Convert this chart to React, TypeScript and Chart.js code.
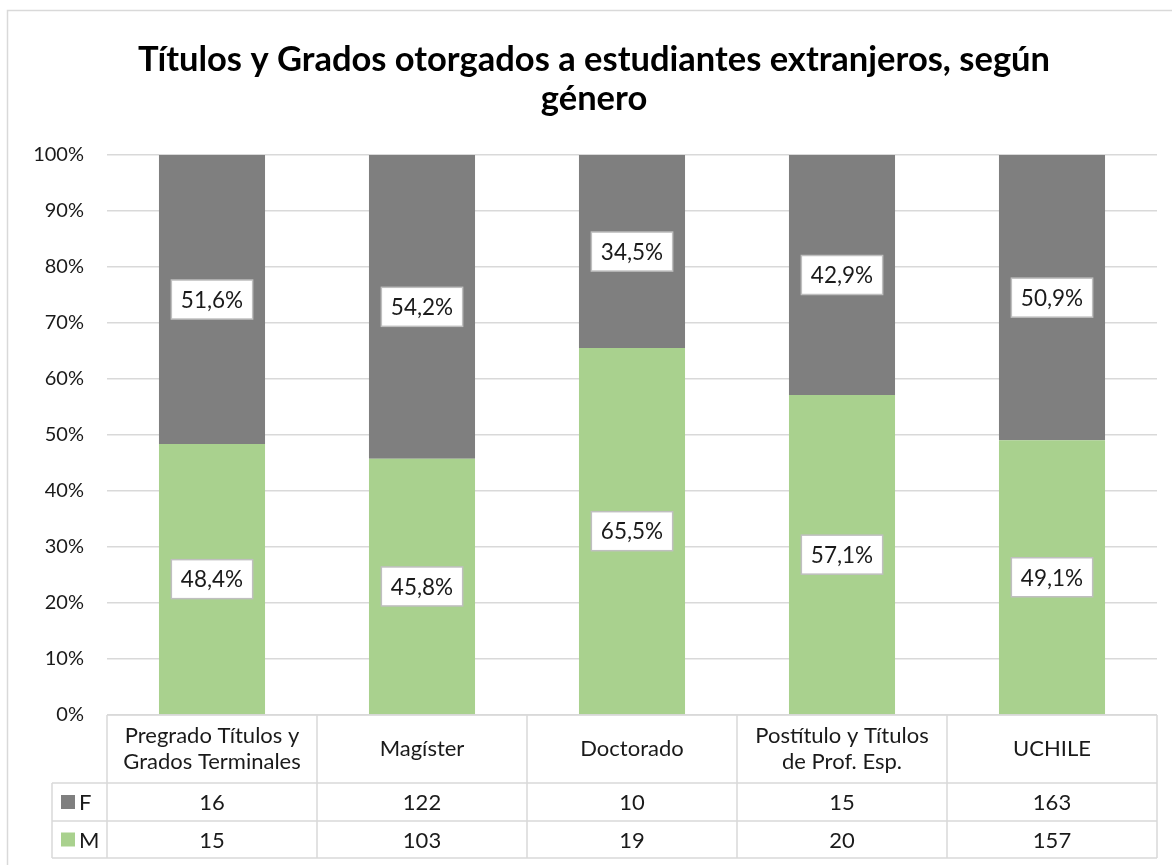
import React, { useEffect, useRef } from "react";
import { Chart, registerables } from "chart.js";

Chart.register(...registerables);

const titleLines = ["Títulos y Grados otorgados a estudiantes extranjeros, según", "género"];
const categories: string[][] = [
  ["Pregrado Títulos y", "Grados Terminales"],
  ["Magíster"],
  ["Doctorado"],
  ["Postítulo y Títulos", "de Prof. Esp."],
  ["UCHILE"],
];
const seriesFName = "F";
const seriesMName = "M";
const countsF = [16, 122, 10, 15, 163];
const countsM = [15, 103, 19, 20, 157];
const yTickStep = 10;

const COLOR_F = "#7f7f7f";
const COLOR_M = "#a9d18e";
const GRID = "#d9d9d9";
const TEXT = "#1a1a1a";
const FONT = "Lato, 'Noto Sans', sans-serif";

const pctM = countsM.map((m, i) => (m / (m + countsF[i])) * 100);
const pctF = countsF.map((f, i) => (f / (f + countsM[i])) * 100);

const fmt = (v: number) => v.toFixed(1).replace(".", ",") + "%";

const decorPlugin = {
  id: "decor",
  beforeDraw(chart: any) {
    const ctx = chart.ctx;
    ctx.save();
    ctx.fillStyle = "#fff";
    ctx.fillRect(0, 0, chart.width, chart.height);
    ctx.strokeStyle = GRID;
    ctx.lineWidth = 1.5;
    ctx.strokeRect(7.5, 10.5, chart.width + 20, chart.height + 20);
    // title
    ctx.fillStyle = "#000";
    ctx.font = `bold 34.5px ${FONT}`;
    ctx.textAlign = "center";
    ctx.textBaseline = "alphabetic";
    ctx.fillText(titleLines[0], 594, 71);
    ctx.fillText(titleLines[1], 594, 110);
    ctx.restore();
  },
  afterDatasetsDraw(chart: any) {
    const ctx = chart.ctx;
    ctx.save();
    ctx.font = `22.5px ${FONT}`;
    ctx.textAlign = "center";
    ctx.textBaseline = "middle";
    chart.data.datasets.forEach((ds: any, di: number) => {
      const meta = chart.getDatasetMeta(di);
      meta.data.forEach((el: any, i: number) => {
        const txt = fmt(ds.data[i]);
        const cx = el.x;
        const cy = (el.y + el.base) / 2;
        const w = ctx.measureText(txt).width + 19;
        const h = 39;
        ctx.fillStyle = "#fff";
        ctx.fillRect(cx - w / 2, cy - h / 2, w, h);
        ctx.strokeStyle = "#bfbfbf";
        ctx.lineWidth = 1.5;
        ctx.strokeRect(cx - w / 2, cy - h / 2, w, h);
        ctx.fillStyle = TEXT;
        ctx.fillText(txt, cx, cy + 1);
      });
    });
    ctx.restore();
  },
  afterDraw(chart: any) {
    const ctx = chart.ctx;
    const area = chart.chartArea;
    const xs = chart.scales.x;
    const n = categories.length;
    const catW = (area.right - area.left) / n;
    const top = area.bottom;
    const r1 = top + 68;
    const r2 = r1 + 38;
    const r3 = r2 + 37;
    const hdrLeft = 52;
    ctx.save();
    ctx.strokeStyle = GRID;
    ctx.lineWidth = 1.5;
    ctx.beginPath();
    ctx.moveTo(area.left, top);
    ctx.lineTo(area.right, top);
    [r1, r2, r3].forEach((y) => {
      ctx.moveTo(hdrLeft, y);
      ctx.lineTo(area.right, y);
    });
    ctx.moveTo(hdrLeft, r1);
    ctx.lineTo(hdrLeft, r3);
    for (let i = 0; i <= n; i++) {
      const x = area.left + i * catW;
      ctx.moveTo(x, top);
      ctx.lineTo(x, r3);
    }
    ctx.stroke();

    ctx.fillStyle = TEXT;
    ctx.font = `22px ${FONT}`;
    ctx.textAlign = "center";
    ctx.textBaseline = "middle";
    categories.forEach((lines, i) => {
      const cx = xs.getPixelForValue(i);
      const midY = (top + r1) / 2;
      const lh = 26;
      lines.forEach((ln, k) => {
        ctx.fillText(ln, cx, midY + (k - (lines.length - 1) / 2) * lh);
      });
      ctx.fillText(String(countsF[i]), cx, (r1 + r2) / 2 + 1);
      ctx.fillText(String(countsM[i]), cx, (r2 + r3) / 2 + 1);
    });
    // legend keys
    const rows = [
      { name: seriesFName, color: COLOR_F, y: (r1 + r2) / 2 },
      { name: seriesMName, color: COLOR_M, y: (r2 + r3) / 2 },
    ];
    ctx.textAlign = "left";
    rows.forEach((r) => {
      ctx.fillStyle = r.color;
      ctx.fillRect(61, r.y - 7, 14, 14);
      ctx.fillStyle = TEXT;
      ctx.font = `22px ${FONT}`;
      ctx.fillText(r.name, 79, r.y + 1);
    });
    ctx.restore();
  },
};

export default function App() {
  const ref = useRef<HTMLCanvasElement | null>(null);
  useEffect(() => {
    if (!ref.current) return;
    const chart = new Chart(ref.current, {
      type: "bar",
      data: {
        labels: categories.map((c) => c.join(" ")),
        datasets: [
          {
            label: seriesMName,
            data: pctM,
            backgroundColor: COLOR_M,
            categoryPercentage: 1,
            barPercentage: 0.505,
          },
          {
            label: seriesFName,
            data: pctF,
            backgroundColor: COLOR_F,
            categoryPercentage: 1,
            barPercentage: 0.505,
          },
        ],
      },
      options: {
        responsive: false,
        animation: false,
        devicePixelRatio: 1,
        layout: { padding: { top: 155, bottom: 150, left: 0, right: 15 } },
        plugins: {
          legend: { display: false },
          title: { display: false },
          tooltip: { enabled: false },
        },
        scales: {
          x: { stacked: true, display: false },
          y: {
            stacked: true,
            min: 0,
            max: 100,
            afterFit: (s: any) => {
              s.width = 107;
            },
            border: { display: false },
            grid: { color: GRID, lineWidth: 1.5, drawTicks: false },
            ticks: {
              stepSize: yTickStep,
              padding: 23,
              color: TEXT,
              font: { size: 20, family: FONT },
              callback: (v: any) => v + "%",
            },
          },
        },
      },
      plugins: [decorPlugin],
    });
    return () => chart.destroy();
  }, []);
  return (
    <div style={{ position: "fixed", left: 0, top: 0, width: 1172, height: 865 }}>
      <canvas ref={ref} width={1172} height={865} />
    </div>
  );
}
